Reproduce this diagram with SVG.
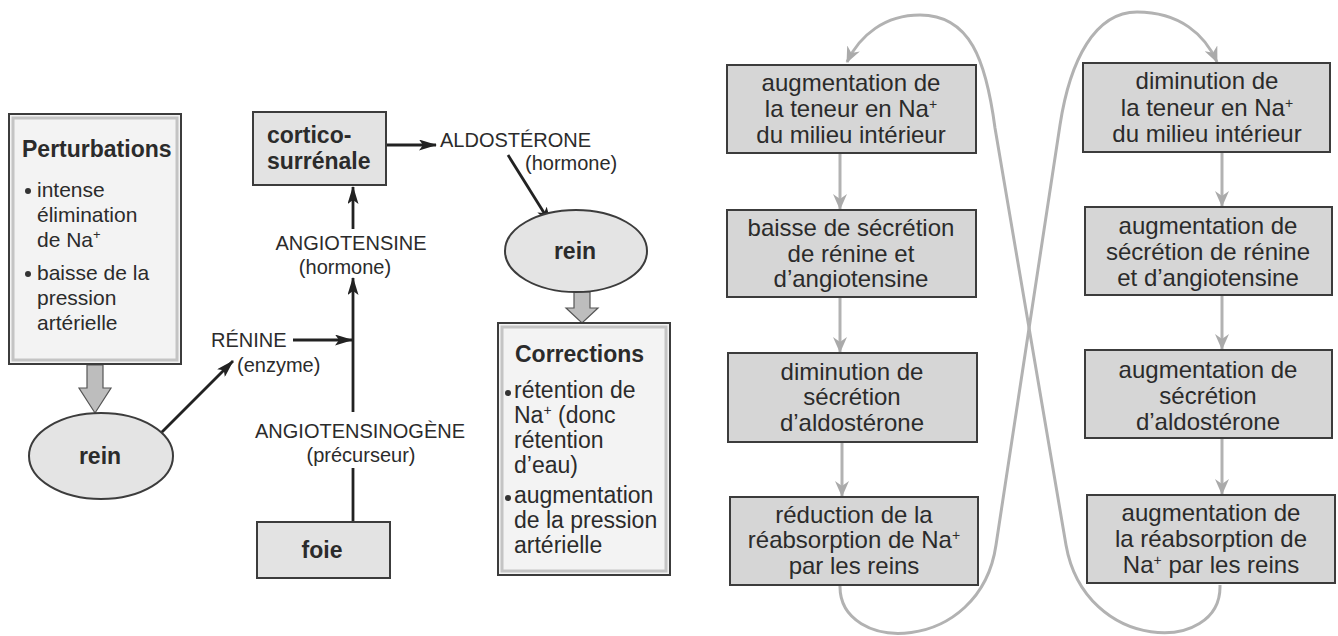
<svg xmlns="http://www.w3.org/2000/svg" width="1338" height="636" viewBox="0 0 1338 636">
<defs>
<style>
text{font-family:"Liberation Sans",Arial,sans-serif;fill:#2b2b2b}
.b{font-weight:bold;font-size:23px}
.lab{font-size:20px}
.p{font-size:21px}
.c{font-size:23px}
.r{font-size:24px;text-anchor:middle}
.box{fill:#d6d6d6;stroke:#3c3c3c;stroke-width:2}
.lbox{fill:#e3e3e3;stroke:#3c3c3c;stroke-width:2}
.big{fill:#f3f3f3;stroke:#3c3c3c;stroke-width:2}
.inner{fill:none;stroke:#c4c4c4;stroke-width:3}
.ell{fill:#e4e4e4;stroke:#3c3c3c;stroke-width:2}
.blk{stroke:#222;stroke-width:2.8;fill:none}
.gl{stroke:#b2b2b2;stroke-width:3;fill:none}
.garr{fill:#bdbdbd;stroke:#555;stroke-width:1.2}
.dot{fill:#333}
</style>
<marker id="ah" viewBox="0 0 18 11" refX="17" refY="5.5" markerWidth="18" markerHeight="11" markerUnits="userSpaceOnUse" orient="auto"><path d="M0,0 L18,5.5 L0,11 L4,5.5 z" fill="#222"/></marker>
<marker id="gh" viewBox="0 0 16 14" refX="15" refY="7" markerWidth="16" markerHeight="14" markerUnits="userSpaceOnUse" orient="auto"><path d="M0,0 L16,7 L0,14 L5,7 z" fill="#aaa"/></marker>
</defs>

<g id="connectors">
<polygon class="garr" points="87,365 103,365 103,388 111,388 95,413 79,388 87,388"/>
<polygon class="garr" points="574,292 590,292 590,308 598,308 582,323 566,308 574,308"/>
<line class="blk" x1="155" y1="439" x2="233" y2="361" marker-end="url(#ah)"/>
<line class="blk" x1="293" y1="340" x2="352" y2="340" marker-end="url(#ah)"/>
<line class="blk" x1="353" y1="522" x2="353" y2="468"/>
<line class="blk" x1="353" y1="412" x2="353" y2="278" marker-end="url(#ah)"/>
<line class="blk" x1="353" y1="229" x2="353" y2="187" marker-end="url(#ah)"/>
<line class="blk" x1="387" y1="145" x2="436" y2="145" marker-end="url(#ah)"/>
<line class="blk" x1="508" y1="155" x2="551" y2="224" marker-end="url(#ah)"/>
<line class="gl" x1="840" y1="153" x2="840" y2="209" marker-end="url(#gh)"/>
<line class="gl" x1="840" y1="297" x2="840" y2="352" marker-end="url(#gh)"/>
<line class="gl" x1="842" y1="442" x2="842" y2="496" marker-end="url(#gh)"/>
<line class="gl" x1="1222" y1="152" x2="1222" y2="206" marker-end="url(#gh)"/>
<line class="gl" x1="1222" y1="295" x2="1222" y2="349" marker-end="url(#gh)"/>
<line class="gl" x1="1222" y1="438" x2="1222" y2="494" marker-end="url(#gh)"/>
<path class="gl" d="M840,585 C838,655 980,655 996,545 L1060,125 C1070,60 1095,12 1137,12 C1180,12 1205,35 1217,62" marker-end="url(#gh)"/>
<path class="gl" d="M1220,585 C1222,655 1085,653 1066,545 L995,128 C986,60 970,15 920,15 C885,15 860,35 847,62" marker-end="url(#gh)"/>
</g>

<g id="perturbations">
<rect class="big" x="9" y="114" width="172" height="250"/>
<rect class="inner" x="13" y="118" width="164" height="242"/>
<text class="b" x="22" y="157">Perturbations</text>
<circle class="dot" cx="28" cy="191" r="3"/>
<text class="p" x="37" y="197">intense</text>
<text class="p" x="37" y="222">élimination</text>
<text class="p" x="37" y="247">de Na<tspan font-size="13" dy="-8">+</tspan></text>
<circle class="dot" cx="28" cy="274" r="3"/>
<text class="p" x="37" y="280">baisse de la</text>
<text class="p" x="37" y="305">pression</text>
<text class="p" x="37" y="330">artérielle</text>
</g>

<g id="rein1">
<ellipse class="ell" cx="101" cy="456" rx="72" ry="43"/>
<text class="b" x="100" y="464" text-anchor="middle">rein</text>
</g>

<g id="renine">
<text class="lab" x="211" y="347">RÉNINE</text>
<text class="lab" x="237" y="372">(enzyme)</text>
</g>

<g id="corticosurrenale">
<rect class="lbox" x="253" y="112" width="133" height="73"/>
<text class="b" x="267" y="143">cortico-</text>
<text class="b" x="267" y="169">surrénale</text>
</g>

<g id="angiotensine">
<text class="lab" x="351" y="250" text-anchor="middle">ANGIOTENSINE</text>
<text class="lab" x="345" y="274" text-anchor="middle">(hormone)</text>
</g>

<g id="angiotensinogene">
<text class="lab" x="360" y="438" text-anchor="middle">ANGIOTENSINOGÈNE</text>
<text class="lab" x="361" y="462" text-anchor="middle">(précurseur)</text>
</g>

<g id="foie">
<rect class="lbox" x="257" y="522" width="133" height="56"/>
<text class="b" x="322" y="558" text-anchor="middle">foie</text>
</g>

<g id="aldosterone">
<text class="lab" x="440" y="147">ALDOSTÉRONE</text>
<text class="lab" x="525" y="170">(hormone)</text>
</g>

<g id="rein2">
<ellipse class="ell" cx="576" cy="251" rx="71" ry="41"/>
<text class="b" x="575" y="259" text-anchor="middle">rein</text>
</g>

<g id="corrections">
<rect class="big" x="498" y="323" width="172" height="252"/>
<rect class="inner" x="502" y="327" width="164" height="244"/>
<text class="b" x="515" y="362">Corrections</text>
<circle class="dot" cx="508" cy="393" r="3"/>
<text class="c" x="514" y="398">rétention de</text>
<text class="c" x="514" y="423">Na<tspan font-size="14" dy="-8">+</tspan><tspan dy="8"> (donc</tspan></text>
<text class="c" x="514" y="448">rétention</text>
<text class="c" x="514" y="473">d’eau)</text>
<circle class="dot" cx="508" cy="498" r="3"/>
<text class="c" x="514" y="503">augmentation</text>
<text class="c" x="514" y="528">de la pression</text>
<text class="c" x="514" y="553">artérielle</text>
</g>

<g id="L1">
<rect class="box" x="727" y="65" width="249" height="88"/>
<text class="r" x="851" y="91">augmentation de</text>
<text class="r" x="851" y="117">la teneur en Na<tspan font-size="14" dy="-8">+</tspan></text>
<text class="r" x="851" y="143">du milieu intérieur</text>
</g>
<g id="L2">
<rect class="box" x="727" y="210" width="249" height="87"/>
<text class="r" x="851" y="236">baisse de sécrétion</text>
<text class="r" x="851" y="262">de rénine et</text>
<text class="r" x="851" y="287">d’angiotensine</text>
</g>
<g id="L3">
<rect class="box" x="728" y="353" width="249" height="89"/>
<text class="r" x="852" y="380">diminution de</text>
<text class="r" x="852" y="405">sécrétion</text>
<text class="r" x="852" y="431">d’aldostérone</text>
</g>
<g id="L4">
<rect class="box" x="730" y="497" width="248" height="88"/>
<text class="r" x="854" y="523">réduction de la</text>
<text class="r" x="854" y="548">réabsorption de Na<tspan font-size="14" dy="-8">+</tspan></text>
<text class="r" x="854" y="574">par les reins</text>
</g>

<g id="R1">
<rect class="box" x="1083" y="63" width="247" height="89"/>
<text class="r" x="1207" y="89">diminution de</text>
<text class="r" x="1207" y="116">la teneur en Na<tspan font-size="14" dy="-8">+</tspan></text>
<text class="r" x="1207" y="142">du milieu intérieur</text>
</g>
<g id="R2">
<rect class="box" x="1085" y="207" width="247" height="88"/>
<text class="r" x="1208" y="234">augmentation de</text>
<text class="r" x="1208" y="260">sécrétion de rénine</text>
<text class="r" x="1208" y="286">et d’angiotensine</text>
</g>
<g id="R3">
<rect class="box" x="1085" y="350" width="247" height="88"/>
<text class="r" x="1208" y="378">augmentation de</text>
<text class="r" x="1208" y="404">sécrétion</text>
<text class="r" x="1208" y="430">d’aldostérone</text>
</g>
<g id="R4">
<rect class="box" x="1087" y="495" width="248" height="88"/>
<text class="r" x="1211" y="521">augmentation de</text>
<text class="r" x="1211" y="547">la réabsorption de</text>
<text class="r" x="1211" y="573">Na<tspan font-size="14" dy="-8">+</tspan><tspan dy="8"> par les reins</tspan></text>
</g>
</svg>
